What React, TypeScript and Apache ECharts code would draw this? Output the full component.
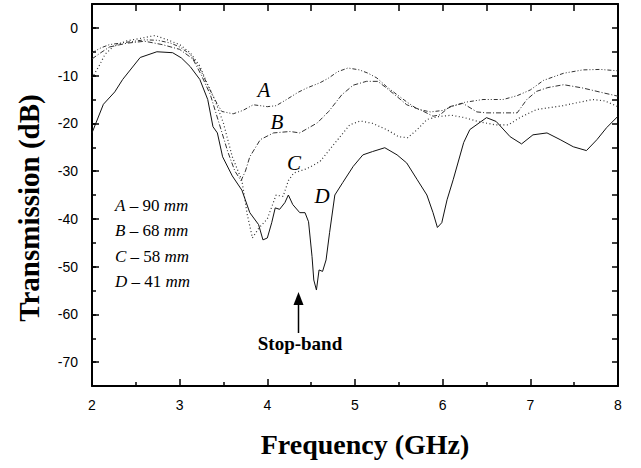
import React, { useEffect, useRef } from "react";
import * as echarts from "echarts";

// Frequency (GHz) and transmission (dB) for each sample length
const freqA = [2.0, 2.1, 2.2, 2.4, 2.6, 2.75, 2.9, 3.0, 3.12, 3.23, 3.32, 3.4, 3.48, 3.61, 3.72, 3.84, 4.0, 4.1, 4.22, 4.35, 4.45, 4.6, 4.7, 4.8, 4.92, 5.05, 5.15, 5.25, 5.36, 5.48, 5.59, 5.71, 5.86, 6.0, 6.1, 6.25, 6.46, 6.69, 6.85, 7.0, 7.15, 7.38, 7.6, 7.8, 8.0];
const valA = [-5.2, -4.2, -3.5, -3.0, -2.5, -2.6, -3.2, -4.0, -5.5, -8.5, -12, -15, -17.5, -18, -17.3, -16.1, -16.5, -16.3, -15, -13.5, -12.6, -11.5, -10.5, -9.2, -8.4, -8.8, -9.5, -10.5, -12.3, -14, -15.5, -17, -17.6, -17.3, -16.5, -15.6, -15, -15, -14.2, -13, -11, -9.5, -8.8, -8.7, -9];

const freqB = [2.0, 2.1, 2.2, 2.4, 2.6, 2.8, 3.0, 3.15, 3.25, 3.35, 3.45, 3.55, 3.63, 3.7, 3.75, 3.8, 3.92, 4.07, 4.26, 4.37, 4.57, 4.7, 4.85, 4.98, 5.13, 5.26, 5.36, 5.48, 5.59, 5.74, 5.89, 5.97, 6.08, 6.23, 6.39, 6.5, 6.7, 6.85, 6.96, 7.07, 7.2, 7.38, 7.6, 7.83, 8.0];
const valB = [-6.5, -5.2, -4.0, -3.2, -2.8, -3.5, -4.5, -6.5, -10, -14, -20, -26, -30, -32, -30, -27, -23.4, -22, -21.7, -22, -19.9, -17.5, -14, -12, -11.2, -11.2, -12.6, -14.4, -16.1, -17.1, -18.5, -18.2, -16.5, -15.8, -17.6, -17.8, -17.8, -17.8, -15, -13.3, -12.5, -11.9, -12.6, -13.6, -14.3];

const freqC = [2.0, 2.08, 2.15, 2.25, 2.4, 2.55, 2.72, 2.86, 3.0, 3.12, 3.23, 3.31, 3.4, 3.5, 3.6, 3.71, 3.77, 3.83, 3.9, 4.0, 4.05, 4.1, 4.18, 4.24, 4.3, 4.45, 4.6, 4.71, 4.83, 4.94, 5.06, 5.2, 5.36, 5.5, 5.6, 5.71, 5.82, 5.94, 6.1, 6.25, 6.4, 6.6, 6.75, 6.88, 7.07, 7.37, 7.71, 7.85, 8.0];
const valC = [-10.5, -8, -5.5, -3.8, -2.7, -2.2, -1.6, -2.5, -3.5, -5.2, -8, -11.5, -15, -20, -27, -32, -39, -44, -42, -40, -37.5, -35, -35.3, -32, -30.4, -29.5, -28, -25.5, -22.8, -20.3, -19.5, -20, -21.3, -22.8, -23, -21.3, -19.2, -18.6, -18.3, -18.8, -19.6, -20.3, -20.3, -18.8, -17.1, -16.3, -15, -15.3, -16.5];

const freqD = [2.0, 2.13, 2.26, 2.35, 2.55, 2.74, 2.92, 3.02, 3.12, 3.23, 3.32, 3.38, 3.43, 3.49, 3.6, 3.71, 3.8, 3.9, 3.95, 4.0, 4.05, 4.09, 4.14, 4.2, 4.24, 4.29, 4.37, 4.43, 4.47, 4.51, 4.53, 4.56, 4.59, 4.63, 4.67, 4.71, 4.77, 4.86, 4.98, 5.09, 5.2, 5.34, 5.48, 5.59, 5.71, 5.82, 5.89, 5.94, 5.99, 6.05, 6.12, 6.24, 6.31, 6.5, 6.61, 6.77, 6.9, 7.03, 7.19, 7.34, 7.49, 7.64, 7.76, 7.87, 8.0];
const valD = [-22, -16, -13.4, -10.8, -6.2, -5.0, -5.2, -6.3, -8.1, -10.8, -15, -20.7, -22, -27, -31, -34, -38.7, -41.2, -44.4, -44, -40.8, -37.7, -38, -36.6, -35, -37, -38.7, -38.7, -40.6, -47.9, -52.8, -54.9, -50.7, -51, -48.6, -42.9, -35, -32.4, -29, -26.6, -25.9, -25.1, -26.6, -28.3, -31.8, -35, -38.7, -41.8, -40.8, -36, -31.8, -24, -21.3, -18.8, -19.6, -22.8, -24.3, -22.4, -22, -23.4, -24.9, -25.7, -23.4, -20.9, -18.5];

const yTickLabels = [0, -10, -20, -30, -40, -50, -60, -70];
const legendRows = [
  { id: "A", len: "90" },
  { id: "B", len: "68" },
  { id: "C", len: "58" },
  { id: "D", len: "41" },
];

const pairs = (xs: number[], ys: number[]) => xs.map((x, i) => [x, ys[i]]);

const SERIF = "'Liberation Serif', 'Times New Roman', serif";
const SANS = "'Liberation Sans', Arial, sans-serif";

export default function App() {
  const ref = useRef<HTMLDivElement>(null);
  useEffect(() => {
    document.body.style.margin = "0";
    const chart = echarts.init(ref.current!, null, { renderer: "svg" });
    const lineSeries = (name: string, xs: number[], ys: number[], dash: any, color: string, width: number) => ({
      name,
      type: "line",
      data: pairs(xs, ys),
      showSymbol: false,
      symbol: "none",
      smooth: false,
      xAxisIndex: 0,
      yAxisIndex: 0,
      lineStyle: { color, width, type: dash },
      z: 3,
    });
    const graphics: any[] = [
      { type: "text", x: 264, y: 90, style: { text: "A", font: `italic 21px ${SERIF}`, fill: "#000", align: "center", verticalAlign: "middle" } },
      { type: "text", x: 277, y: 122, style: { text: "B", font: `italic 21px ${SERIF}`, fill: "#000", align: "center", verticalAlign: "middle" } },
      { type: "text", x: 294, y: 163, style: { text: "C", font: `italic 21px ${SERIF}`, fill: "#000", align: "center", verticalAlign: "middle" } },
      { type: "text", x: 322, y: 196, style: { text: "D", font: `italic 21px ${SERIF}`, fill: "#000", align: "center", verticalAlign: "middle" } },
      { type: "text", x: 300, y: 343, style: { text: "Stop-band", font: `bold 19px ${SERIF}`, fill: "#000", align: "center", verticalAlign: "middle" } },
      { type: "line", shape: { x1: 298.5, y1: 333, x2: 298.5, y2: 302 }, style: { stroke: "#000", lineWidth: 1.5 } },
      { type: "polygon", shape: { points: [[293.5, 305], [303.5, 305], [298.5, 292]] }, style: { fill: "#000" } },
      { type: "text", x: 365, y: 444, style: { text: "Frequency (GHz)", font: `bold 28px ${SERIF}`, fill: "#000", align: "center", verticalAlign: "middle" } },
      { type: "text", x: 29, y: 208, rotation: Math.PI / 2, style: { text: "Transmission (dB)", font: `bold 29px ${SERIF}`, fill: "#000", align: "center", verticalAlign: "middle" } },
    ];
    legendRows.forEach((r, i) => {
      graphics.push({
        type: "text",
        x: 115,
        y: 205 + i * 25.5,
        style: {
          text: `{i|${r.id}} – ${r.len} {i|mm}`,
          font: `17px ${SERIF}`,
          fill: "#000",
          verticalAlign: "middle",
          rich: { i: { fontStyle: "italic", fontSize: 17, fontFamily: SERIF, fill: "#000" } },
        },
      });
    });

    chart.setOption({
      animation: false,
      backgroundColor: "#fff",
      grid: { left: 92, right: 23, top: 4, bottom: 82, containLabel: false },
      xAxis: [
        {
          type: "value", position: "bottom", min: 2, max: 8, interval: 1,
          axisLine: { show: true, onZero: false, lineStyle: { color: "#000", width: 2 } },
          axisTick: { show: true, inside: true, length: 7, lineStyle: { color: "#000", width: 1.5 } },
          minorTick: { show: true, splitNumber: 2, length: 4, lineStyle: { color: "#000", width: 1.5 } },
          axisLabel: { show: true, fontSize: 14, fontFamily: SANS, color: "#000", margin: 12 },
          splitLine: { show: false },
        },
        {
          type: "value", position: "top", min: 2, max: 8, interval: 0.5,
          axisLine: { show: true, onZero: false, lineStyle: { color: "#000", width: 2 } },
          axisTick: { show: true, inside: true, length: 7, lineStyle: { color: "#000", width: 1.5 } },
          axisLabel: { show: false },
          splitLine: { show: false },
        },
      ],
      yAxis: [
        {
          type: "value", position: "left", min: -75, max: 5,
          axisLine: { show: true, onZero: false, lineStyle: { color: "#000", width: 2 } },
          axisTick: { show: true, inside: true, length: 7, customValues: yTickLabels, lineStyle: { color: "#000", width: 1.5 } },
          axisLabel: { show: true, customValues: yTickLabels, fontSize: 14, fontFamily: SANS, color: "#000", margin: 14 },
          splitLine: { show: false },
        },
        {
          type: "value", position: "left", min: -75, max: 5, interval: 5,
          axisLine: { show: false },
          axisTick: { show: true, inside: true, length: 4, lineStyle: { color: "#000", width: 1.5 } },
          axisLabel: { show: false },
          splitLine: { show: false },
        },
        {
          type: "value", position: "right", min: -75, max: 5, interval: 5,
          axisLine: { show: true, onZero: false, lineStyle: { color: "#000", width: 2 } },
          axisTick: { show: true, inside: true, length: 6, lineStyle: { color: "#000", width: 1.5 } },
          axisLabel: { show: false },
          splitLine: { show: false },
        },
      ],
      series: [
        lineSeries("A", freqA, valA, [4, 2, 1, 2, 1, 2], "#333", 1),
        lineSeries("B", freqB, valB, [5, 2, 1, 2], "#333", 1),
        lineSeries("C", freqC, valC, [1, 2.5], "#333", 1.2),
        lineSeries("D", freqD, valD, "solid", "#111", 1),
      ],
      graphic: graphics,
    });
    return () => chart.dispose();
  }, []);
  return <div ref={ref} style={{ position: "absolute", left: 0, top: 0, width: 641, height: 468 }} />;
}
